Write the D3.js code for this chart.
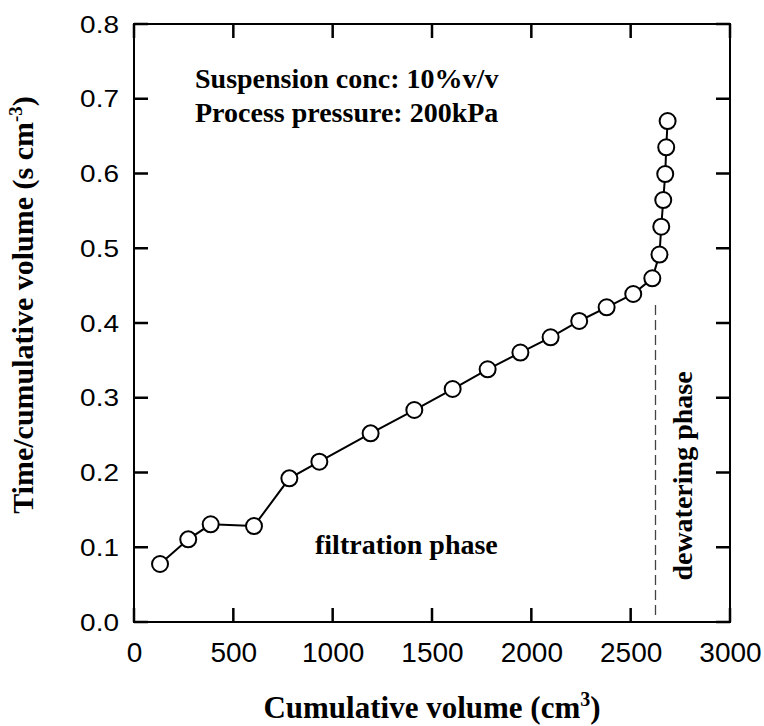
<!DOCTYPE html>
<html>
<head>
<meta charset="utf-8">
<script src="https://cdn.jsdelivr.net/npm/d3@7"></script>
<style>
  html, body { margin: 0; padding: 0; background: #fff; }
  svg { display: block; }
</style>
</head>
<body>
<svg id="chart" width="764" height="726"></svg>
<script>
// ---- data ----
const volume = [131, 273, 386, 604, 782, 933, 1191, 1411, 1604, 1780, 1945, 2097, 2241, 2379, 2513, 2609, 2645, 2654, 2664, 2674, 2679, 2686];
const timePerVolume = [0.0776, 0.1106, 0.1307, 0.1284, 0.1922, 0.2144, 0.2524, 0.2836, 0.3117, 0.3381, 0.3605, 0.3809, 0.4027, 0.4210, 0.4388, 0.4598, 0.4916, 0.5288, 0.5645, 0.5993, 0.6351, 0.6702];
const xTicks = [0, 500, 1000, 1500, 2000, 2500, 3000];
const yTicks = [0.0, 0.1, 0.2, 0.3, 0.4, 0.5, 0.6, 0.7, 0.8];
const dividerX = [2625, 2625];
const dividerY = [0.424, 0.005];
const annotations = ["Suspension conc: 10%v/v", "Process pressure: 200kPa"];
const phaseLabels = ["filtration phase", "dewatering phase"];

// ---- layout ----
const L = 134, R = 730, T = 24, B = 622, TICK = 14;
const svg = d3.select("#chart");
const x = d3.scaleLinear().domain([0, 3000]).range([L, R]);
const y = d3.scaleLinear().domain([0, 0.8]).range([B, T]);

const sans = "'Liberation Sans', Arial, sans-serif";
const serif = "'Liberation Serif', 'Times New Roman', serif";

// frame
svg.append("rect").attr("x", L).attr("y", T).attr("width", R - L).attr("height", B - T)
  .attr("fill", "none").attr("stroke", "#000").attr("stroke-width", 2);

// inward tick marks on all four sides
const tg = svg.append("g").attr("class", "ticks");
xTicks.forEach(d => {
  tg.append("rect").attr("x", x(d) - 1.25).attr("y", B - TICK).attr("width", 2.5).attr("height", TICK).attr("fill", "#000");
  tg.append("rect").attr("x", x(d) - 1.25).attr("y", T).attr("width", 2.5).attr("height", TICK).attr("fill", "#000");
});
yTicks.forEach(d => {
  tg.append("rect").attr("x", L).attr("y", y(d) - 1.25).attr("width", TICK).attr("height", 2.5).attr("fill", "#000");
  tg.append("rect").attr("x", R - TICK).attr("y", y(d) - 1.25).attr("width", TICK).attr("height", 2.5).attr("fill", "#000");
});

// tick labels via d3 axes
svg.append("g").attr("transform", `translate(0,${B})`)
  .call(d3.axisBottom(x).tickValues(xTicks).tickSize(0).tickPadding(20).tickFormat(d3.format("d")))
  .call(g => g.select(".domain").remove())
  .call(g => g.selectAll("text").attr("font-family", sans).attr("font-size", 28).attr("fill", "#000"));
svg.append("g").attr("transform", `translate(${L},0)`)
  .call(d3.axisLeft(y).tickValues(yTicks).tickSize(0).tickPadding(15).tickFormat(d3.format(".1f")))
  .call(g => g.select(".domain").remove())
  .call(g => g.selectAll("text").attr("font-family", sans).attr("font-size", 28).attr("fill", "#000")
    .attr("dy", "0.34em").attr("transform", "scale(1,0.865)"));

// divider dashed line
svg.append("path")
  .attr("d", `M${x(dividerX[0])},${y(dividerY[0])}L${x(dividerX[1])},${y(dividerY[1])}`)
  .attr("fill", "none").attr("stroke", "#444").attr("stroke-width", 1.3).attr("stroke-dasharray", "10,5");

// data line + markers
const pts = volume.map((v, i) => [v, timePerVolume[i]]);
svg.append("path").datum(pts)
  .attr("d", d3.line().x(d => x(d[0])).y(d => y(d[1])))
  .attr("fill", "none").attr("stroke", "#000").attr("stroke-width", 2);
svg.append("g").selectAll("circle").data(pts).join("circle")
  .attr("cx", d => x(d[0])).attr("cy", d => y(d[1])).attr("r", 8)
  .attr("fill", "#fff").attr("stroke", "#000").attr("stroke-width", 2);

// annotations
svg.append("g").selectAll("text").data(annotations).join("text")
  .attr("x", 195).attr("y", (d, i) => 88 + i * 34)
  .attr("font-family", serif).attr("font-weight", "bold").attr("font-size", 28)
  .text(d => d);

svg.append("text").attr("x", 315).attr("y", 554)
  .attr("font-family", serif).attr("font-weight", "bold").attr("font-size", 28)
  .text(phaseLabels[0]);
svg.append("text").attr("transform", "translate(692,476) rotate(-90)")
  .attr("text-anchor", "middle")
  .attr("font-family", serif).attr("font-weight", "bold").attr("font-size", 28)
  .text(phaseLabels[1]);

// axis titles
const xt = svg.append("text").attr("x", (L + R) / 2).attr("y", 718).attr("text-anchor", "middle")
  .attr("font-family", serif).attr("font-weight", "bold").attr("font-size", 31);
xt.append("tspan").text("Cumulative volume (cm");
xt.append("tspan").attr("font-size", 20).attr("dy", -12).text("3");
xt.append("tspan").attr("dy", 12).text(")");

const yt = svg.append("text").attr("transform", "translate(33,305) rotate(-90)").attr("text-anchor", "middle")
  .attr("font-family", serif).attr("font-weight", "bold").attr("font-size", 30);
yt.append("tspan").text("Time/cumulative volume (s cm");
yt.append("tspan").attr("font-size", 19).attr("dy", -11).text("-3");
yt.append("tspan").attr("dy", 11).text(")");
</script>
</body>
</html>
